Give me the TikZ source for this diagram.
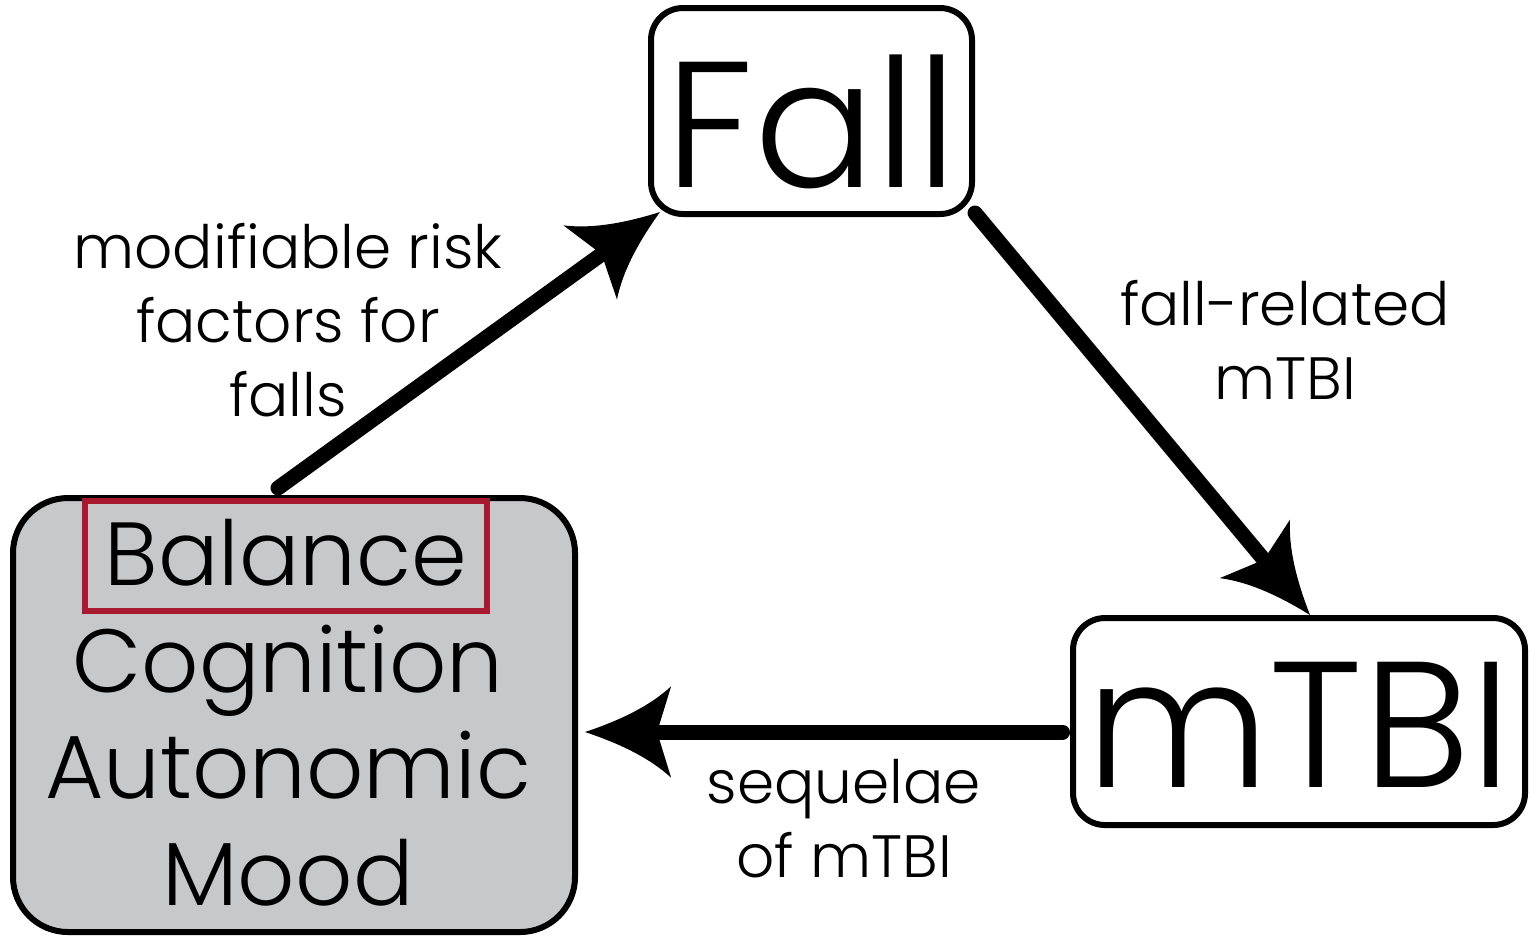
\documentclass[tikz,border=0pt]{standalone}
\usepackage{fontspec}
\setmainfont{Poppins}[UprightFont=* Light]
\usetikzlibrary{positioning}

\definecolor{boxgrey}{RGB}{199,200,202}
\definecolor{riskred}{RGB}{168,25,48}

% swept arrow head
\pgfdeclarearrow{
  name=Swoop,
  setup code={
    \pgfarrowssettipend{0pt}
    \pgfarrowssetlineend{-19pt}
    \pgfarrowssetbackend{-24.5pt}
    \pgfarrowshullpoint{0pt}{0pt}
    \pgfarrowshullpoint{-24.5pt}{13pt}
    \pgfarrowshullpoint{-24.5pt}{-13pt}
  },
  drawing code={
    \pgfpathmoveto{\pgfqpoint{0pt}{0pt}}
    \pgfpathcurveto{\pgfqpoint{-9pt}{3pt}}{\pgfqpoint{-18pt}{7pt}}{\pgfqpoint{-24.5pt}{13pt}}
    \pgfpathlineto{\pgfqpoint{-20.5pt}{0pt}}
    \pgfpathlineto{\pgfqpoint{-24.5pt}{-13pt}}
    \pgfpathcurveto{\pgfqpoint{-18pt}{-7pt}}{\pgfqpoint{-9pt}{-3pt}}{\pgfqpoint{0pt}{0pt}}
    \pgfpathclose
    \pgfusepathqfill
  }
}

\begin{document}
\begin{tikzpicture}
    \tikzstyle{box}=[draw,line width=0.06cm,rounded corners=0.32cm,fill=white,inner sep=0pt]
    \tikzstyle{big}=[font=\fontsize{51}{60}\selectfont,text depth=0pt]
    \tikzstyle{item}=[font=\fontsize{25.5}{30}\selectfont,inner sep=0pt]
    \tikzstyle{link}=[font=\fontsize{17}{21}\selectfont,align=center,inner sep=0pt]
    \tikzstyle{conn}=[line width=0.15cm,line cap=round,-Swoop]

    \useasboundingbox (0,0) rectangle (15.31,-9.40);

    \node[box,big,text height=1.52cm,minimum width=3.21cm,minimum height=2.06cm] (fall) at (8.115,-1.11) {Fall};
    \node[box,big,text height=1.31cm,minimum width=4.52cm,minimum height=2.07cm] (mtbi) at (12.99,-7.215) {mTBI};

    % risk factors
    \node[box,fill=boxgrey,rounded corners=0.55cm,minimum width=5.62cm,minimum height=4.34cm] (factors) at (2.94,-7.15) {};
    \node[item,draw=riskred,line width=0.06cm,text height=0.58cm,text depth=0pt,minimum width=4.02cm,minimum height=1.10cm] (balance) at (2.86,-5.56) {Balance};
    \node[item,anchor=base] (cognition) at (2.88,-6.92) {Cognition};
    \node[item,anchor=base] (autonomic) at (2.88,-7.98) {Autonomic};
    \node[item,anchor=base] (mood) at (2.88,-9.05) {Mood};

    \node[link] (modifiable) at (2.88,-3.20) {modifiable risk\\factors for\\falls};
    \node[link] (related) at (12.85,-3.40) {fall-related\\mTBI};
    \node[link] (sequelae) at (8.44,-8.19) {sequelae\\of mTBI};

    \draw[conn] ([shift={(-0.16,0.07)}]factors.north) -- ([shift={(0.12,0.05)}]fall.south west);
    \draw[conn] ([yshift=0.04cm]fall.south east) -- ([xshift=0.11cm]mtbi.north);
    \draw[conn] ([shift={(-0.075,-0.105)}]mtbi.west) -- ([shift={(0.07,-0.17)}]factors.east);
\end{tikzpicture}
\end{document}
